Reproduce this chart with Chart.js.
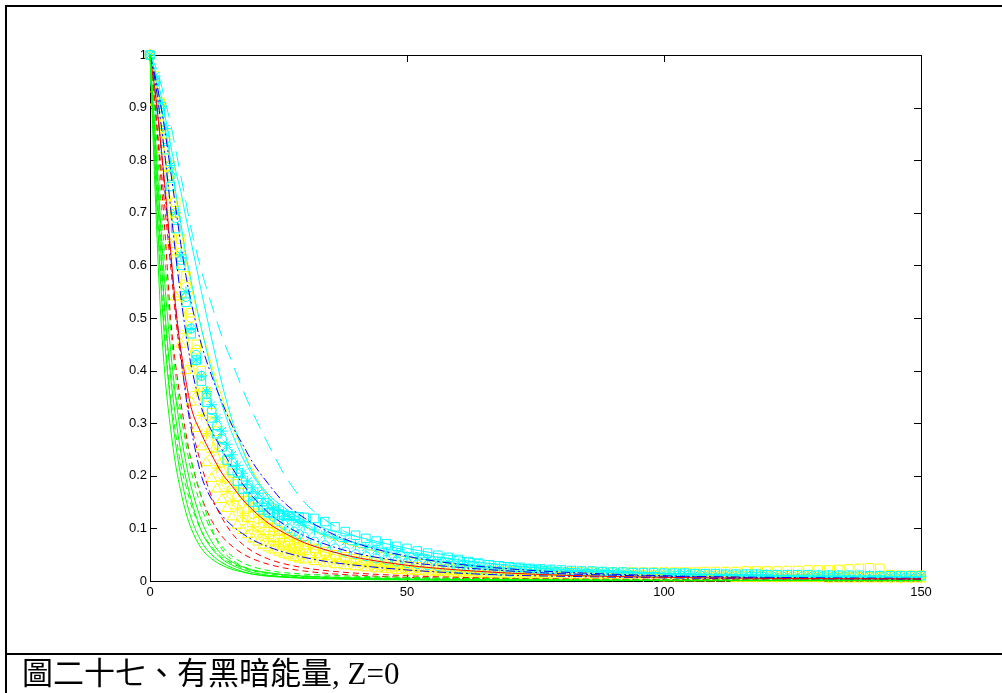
<!DOCTYPE html>
<html>
<head>
<meta charset="utf-8">
<script src="https://cdn.jsdelivr.net/npm/chart.js@4/dist/chart.umd.min.js"></script>
<style>
  html, body { margin:0; padding:0; background:#fff; width:1002px; height:693px; overflow:hidden; }
  #wrap { position:absolute; left:0; top:0; width:1002px; height:693px; }
  .ln { position:absolute; background:#000; }
  #caption { position:absolute; left:22px; top:658px; font-size:31px; line-height:32px; color:#000;
    font-family:"Liberation Serif","Noto Sans CJK TC",serif; white-space:nowrap; }
</style>
</head>
<body>
<div id="wrap"><canvas id="c" width="1002" height="693"></canvas></div>
<div class="ln" style="left:5px;top:5px;width:1000px;height:2px;"></div>
<div class="ln" style="left:5px;top:5px;width:2px;height:690px;"></div>
<div class="ln" style="left:5px;top:653px;width:1000px;height:2px;"></div>
<div id="caption">圖二十七、有黑暗能量, Z=0</div>
<script>
// ---- tick labels ----
const xTickValues = [0, 50, 100, 150];
const yTickLabels = ['0','0.1','0.2','0.3','0.4','0.5','0.6','0.7','0.8','0.9','1'];

// ---- x positions for line series ----
const LX = [0,1,2,3,4,5,6,7,8,10,12,14,16,18,20,23,26,30,35,40,50,60,70,80,100,120,150];
// ---- x positions for marker series ----
const MX = [0,1,2,3,4,5,6,7,8,9,10,11,12,13,14,15,16,17,18,19,20,21,22,23,24,25,26,27,28,29,30,
  32,34,36,38,40,42,44,46,48,50,52,54,56,58,60,62,64,66,68,70,
  72,74,76,78,80,82,84,86,88,90,92,94,96,98,100,102,104,106,108,110,
  112,114,116,118,120,122,124,126,128,130,132,134,136,138,140,142,144,146,148,150];

// ---- line series (values on LX) ----
const greenSolidA = [1,0.78,0.58,0.44,0.34,0.26,0.2,0.155,0.12,0.075,0.05,0.035,0.025,0.018,0.013,0.009,0.007,0.005,0.004,0.003,0.002,0.002,0.001,0.001,0.001,0.001,0.001];
const greenSolidB = [1,0.82,0.64,0.5,0.39,0.31,0.245,0.195,0.155,0.095,0.062,0.042,0.03,0.022,0.016,0.011,0.008,0.006,0.005,0.004,0.003,0.002,0.002,0.001,0.001,0.001,0.001];
const greenSolidC = [1,0.85,0.69,0.55,0.44,0.35,0.28,0.225,0.18,0.115,0.075,0.05,0.036,0.027,0.021,0.016,0.012,0.009,0.007,0.006,0.004,0.003,0.002,0.002,0.001,0.001,0.001];
const greenSolidD = [1,0.74,0.52,0.38,0.29,0.22,0.17,0.13,0.1,0.062,0.042,0.03,0.022,0.017,0.013,0.01,0.008,0.006,0.005,0.004,0.003,0.002,0.002,0.001,0.001,0.001,0.001];
const greenDashA = [1,0.84,0.67,0.49,0.4,0.35,0.31,0.27,0.23,0.16,0.1,0.06,0.04,0.028,0.02,0.014,0.01,0.008,0.006,0.005,0.003,0.002,0.002,0.001,0.001,0.001,0.001];
const greenDashB = [1,0.8,0.6,0.45,0.35,0.28,0.22,0.18,0.145,0.095,0.065,0.045,0.033,0.025,0.019,0.015,0.012,0.01,0.008,0.007,0.005,0.004,0.003,0.002,0.002,0.001,0.001];
const greenDashC = [1,0.88,0.74,0.6,0.48,0.39,0.32,0.26,0.21,0.14,0.095,0.066,0.047,0.035,0.027,0.02,0.016,0.013,0.011,0.009,0.007,0.005,0.004,0.003,0.002,0.002,0.001];
const redDashA = [1,0.9,0.78,0.65,0.5,0.41,0.34,0.28,0.23,0.16,0.115,0.085,0.066,0.052,0.042,0.032,0.025,0.019,0.014,0.011,0.007,0.005,0.004,0.003,0.002,0.002,0.001];
const redDashB = [1,0.9,0.8,0.7,0.6,0.5,0.42,0.36,0.3,0.22,0.16,0.12,0.09,0.07,0.056,0.042,0.033,0.025,0.019,0.015,0.01,0.007,0.005,0.004,0.003,0.002,0.002];
const redSolid = [1,0.93,0.84,0.74,0.63,0.52,0.44,0.38,0.33,0.28,0.24,0.205,0.18,0.155,0.135,0.11,0.092,0.073,0.057,0.045,0.03,0.021,0.015,0.011,0.007,0.005,0.004];
const blueDashDotA = [1,0.96,0.91,0.85,0.78,0.71,0.64,0.58,0.53,0.45,0.39,0.34,0.295,0.26,0.225,0.185,0.15,0.12,0.092,0.072,0.047,0.032,0.023,0.017,0.01,0.007,0.005];
const blueDashDotB = [1,0.95,0.88,0.8,0.71,0.62,0.54,0.47,0.41,0.33,0.285,0.25,0.215,0.185,0.16,0.13,0.108,0.086,0.067,0.053,0.036,0.026,0.019,0.014,0.009,0.006,0.004];
const blueDashDotC = [1,0.93,0.84,0.73,0.62,0.52,0.43,0.35,0.29,0.2,0.155,0.125,0.105,0.09,0.078,0.065,0.055,0.045,0.036,0.03,0.021,0.015,0.011,0.009,0.006,0.004,0.003];
const cyanSolidA = [1,0.97,0.93,0.88,0.83,0.78,0.74,0.69,0.645,0.55,0.46,0.375,0.305,0.25,0.205,0.165,0.14,0.115,0.097,0.085,0.062,0.046,0.034,0.025,0.015,0.01,0.007];
const cyanSolidB = [1,0.96,0.91,0.86,0.8,0.74,0.68,0.62,0.57,0.48,0.4,0.335,0.28,0.235,0.2,0.16,0.13,0.105,0.085,0.072,0.054,0.04,0.03,0.022,0.014,0.01,0.007];
const cyanLongDash = [1,0.98,0.95,0.91,0.87,0.82,0.77,0.72,0.67,0.59,0.525,0.465,0.415,0.365,0.32,0.26,0.205,0.15,0.11,0.085,0.058,0.04,0.029,0.021,0.013,0.009,0.006];
const yellowSolidA = [1,0.96,0.91,0.85,0.79,0.73,0.67,0.61,0.56,0.48,0.41,0.35,0.295,0.25,0.21,0.16,0.13,0.105,0.082,0.066,0.045,0.032,0.023,0.018,0.012,0.009,0.006];
const yellowSolidB = [1,0.95,0.88,0.8,0.72,0.64,0.56,0.49,0.43,0.34,0.275,0.225,0.185,0.155,0.13,0.105,0.085,0.067,0.052,0.041,0.028,0.02,0.015,0.011,0.007,0.005,0.004];

// ---- marker series (values on MX) ----
const cyanSquares = [1,0.95,0.89,0.82,0.75,0.67,0.6,0.53,0.47,0.42,0.38,0.34,0.31,0.28,0.255,0.23,0.21,0.19,0.175,0.16,0.15,0.14,0.135,0.13,0.128,0.126,0.125,0.124,0.123,0.122,0.121,
  0.119,0.113,0.103,0.094,0.087,0.081,0.076,0.071,0.066,0.062,0.057,0.053,0.049,0.045,0.041,0.037,0.034,0.031,0.029,0.027,
  0.026,0.024,0.023,0.022,0.021,0.02,0.019,0.019,0.018,0.017,0.017,0.016,0.016,0.016,0.015,0.015,0.015,0.014,0.014,0.014,
  0.013,0.013,0.013,0.013,0.012,0.012,0.012,0.012,0.012,0.011,0.011,0.011,0.011,0.011,0.01,0.01,0.01,0.01,0.01,0.01];
const cyanStars = [1,0.96,0.91,0.86,0.79,0.7,0.62,0.55,0.48,0.42,0.39,0.36,0.335,0.31,0.285,0.26,0.24,0.22,0.205,0.19,0.177,0.167,0.157,0.148,0.14,0.135,0.129,0.123,0.117,0.111,0.106,
  0.097,0.089,0.082,0.075,0.069,0.064,0.059,0.055,0.051,0.047,0.044,0.041,0.038,0.036,0.033,0.031,0.029,0.027,0.025,0.024,
  0.023,0.022,0.021,0.02,0.019,0.018,0.018,0.017,0.017,0.016,0.016,0.015,0.015,0.015,0.014,0.014,0.014,0.013,0.013,0.013,
  0.013,0.012,0.012,0.012,0.012,0.011,0.011,0.011,0.011,0.011,0.01,0.01,0.01,0.01,0.01,0.01,0.009,0.009,0.009,0.009];
const cyanCircles = [1,0.95,0.9,0.84,0.77,0.69,0.61,0.54,0.48,0.43,0.39,0.355,0.325,0.295,0.27,0.245,0.225,0.205,0.19,0.175,0.162,0.15,0.14,0.13,0.122,0.114,0.107,0.1,0.094,0.089,0.084,
  0.075,0.068,0.062,0.056,0.051,0.047,0.043,0.04,0.037,0.034,0.032,0.03,0.028,0.026,0.024,0.023,0.021,0.02,0.019,0.018];
const yellowTriangles = [1,0.91,0.82,0.73,0.64,0.54,0.45,0.4,0.34,0.29,0.255,0.225,0.195,0.175,0.155,0.138,0.122,0.106,0.096,0.088,0.08,0.074,0.068,0.063,0.059,0.055,0.051,0.048,0.045,0.042,0.04,
  0.037,0.034,0.031,0.029,0.027,0.025,0.023,0.022,0.02,0.019,0.018,0.017,0.016,0.015,0.014,0.013,0.013,0.012,0.012,0.011,
  0.01,0.01,0.009,0.009,0.009,0.008,0.008,0.008,0.008,0.007,0.007,0.007,0.007,0.007,0.006,0.006,0.006,0.006,0.006,0.006,
  0.006,0.005,0.005,0.005,0.005,0.005,0.005,0.005,0.005,0.005,0.004,0.004,0.004,0.004,0.004,0.004,0.004,0.004,0.004,0.004];
const yellowCircles = [1,0.95,0.9,0.84,0.77,0.7,0.625,0.56,0.5,0.44,0.39,0.35,0.3,0.26,0.225,0.195,0.175,0.16,0.148,0.137,0.127,0.118,0.11,0.102,0.095,0.088,0.082,0.076,0.071,0.066,0.062,
  0.056,0.05,0.046,0.042,0.038,0.035,0.032,0.03,0.028,0.026,0.024,0.023,0.021,0.02,0.019,0.018,0.017,0.016,0.016,0.015,
  0.015,0.015,0.014,0.014,0.014,0.013,0.013,0.013,0.013,0.012,0.012,0.012,0.012,0.012,0.011,0.011,0.011,0.011,0.011,0.011,
  0.011,0.01,0.01,0.01,0.01,0.01,0.01,0.01,0.01,0.009,0.009,0.009,0.009,0.009,0.009,0.009,0.008,0.008,0.008,0.008];
const yellowStars = [1,0.93,0.86,0.78,0.7,0.62,0.54,0.47,0.41,0.36,0.315,0.28,0.245,0.215,0.19,0.17,0.152,0.137,0.124,0.113,0.103,0.095,0.088,0.081,0.075,0.07,0.065,0.061,0.057,0.053,0.05,
  0.045,0.041,0.037,0.034,0.031,0.029,0.027,0.025,0.023,0.021,0.02,0.019,0.018,0.017,0.016,0.015,0.014,0.014,0.013,0.013,
  0.012,0.012,0.012,0.011,0.011,0.011,0.011,0.01,0.01,0.01,0.01,0.01,0.009,0.009,0.009,0.009,0.009,0.009,0.008,0.008,
  0.008,0.008,0.008,0.008,0.008,0.007,0.007,0.007,0.007,0.007,0.007,0.007,0.007,0.006,0.006,0.006,0.006,0.006,0.006,0.006];
const yellowSquares = [1,0.96,0.91,0.85,0.79,0.72,0.65,0.58,0.51,0.45,0.4,0.36,0.32,0.285,0.255,0.228,0.205,0.185,0.168,0.153,0.14,0.129,0.119,0.11,0.102,0.095,0.089,0.083,0.078,0.073,0.069,
  0.062,0.056,0.05,0.046,0.042,0.039,0.036,0.033,0.031,0.029,0.027,0.026,0.024,0.023,0.022,0.021,0.02,0.02,0.019,0.019,
  0.018,0.018,0.018,0.018,0.017,0.017,0.017,0.017,0.017,0.017,0.017,0.017,0.017,0.017,0.017,0.017,0.017,0.017,0.018,0.018,
  0.018,0.018,0.019,0.019,0.019,0.019,0.02,0.02,0.021,0.021,0.021,0.022,0.023,0.024,0.025,0.024,0.012,0.011,0.011,0.011];

const GREEN = '#00ff00', RED = '#ff0000', BLUE = '#0000ff', CYAN = '#00ffff', YELLOW = '#ffff00';
const DASH = [6,4], LONGDASH = [16,9], DASHDOT = [9,3,2,3];

function pts(xs, ys) { return ys.map((v, i) => ({ x: xs[i], y: v })); }
function lineDS(ys, color, dash) {
  return { data: pts(LX, ys), borderColor: color, backgroundColor: color, borderWidth: 1,
    borderDash: dash || [], showLine: true, pointRadius: 0, cubicInterpolationMode: 'monotone', clip: false };
}
function markDS(ys, color, style, r) {
  return { data: pts(MX, ys), borderColor: color, backgroundColor: 'rgba(0,0,0,0)', borderWidth: 1,
    showLine: false, pointStyle: style, pointRadius: r, pointHoverRadius: r, clip: false };
}

const datasets = [
  lineDS(greenSolidA, GREEN), lineDS(greenSolidB, GREEN), lineDS(greenSolidC, GREEN), lineDS(greenSolidD, GREEN),
  lineDS(greenDashA, GREEN, DASH), lineDS(greenDashB, GREEN, DASH), lineDS(greenDashC, GREEN, DASH),
  lineDS(redDashA, RED, DASH), lineDS(redDashB, RED, DASH), lineDS(redSolid, RED),
  lineDS(blueDashDotA, BLUE, DASHDOT), lineDS(blueDashDotB, BLUE, DASHDOT), lineDS(blueDashDotC, BLUE, DASHDOT),
  lineDS(cyanSolidA, CYAN), lineDS(cyanSolidB, CYAN), lineDS(cyanLongDash, CYAN, LONGDASH),
  markDS(cyanSquares, CYAN, 'rect', 6), markDS(cyanStars, CYAN, 'star', 5.5), markDS(cyanCircles, CYAN, 'circle', 4.5),
  lineDS(yellowSolidA, YELLOW), lineDS(yellowSolidB, YELLOW),
  markDS(yellowSquares, YELLOW, 'rect', 6), markDS(yellowStars, YELLOW, 'star', 5.5),
  markDS(yellowCircles, YELLOW, 'circle', 4.5), markDS(yellowTriangles, YELLOW, 'triangle', 6)
];

const frame = {
  id: 'frame',
  beforeDatasetsDraw(chart) {
    const { ctx, chartArea: a, scales } = chart;
    ctx.save();
    ctx.strokeStyle = '#000'; ctx.lineWidth = 1;
    ctx.strokeRect(Math.round(a.left) + 0.5, Math.round(a.top) + 0.5, Math.round(a.right - a.left), Math.round(a.bottom - a.top));
    ctx.beginPath();
    const L = 7;
    scales.y.ticks.forEach(t => {
      const y = Math.round(scales.y.getPixelForValue(t.value)) + 0.5;
      ctx.moveTo(a.left, y); ctx.lineTo(a.left + L, y);
      ctx.moveTo(a.right, y); ctx.lineTo(a.right - L, y);
    });
    scales.x.ticks.forEach(t => {
      const x = Math.round(scales.x.getPixelForValue(t.value)) + 0.5;
      ctx.moveTo(x, a.bottom); ctx.lineTo(x, a.bottom - L);
      ctx.moveTo(x, a.top); ctx.lineTo(x, a.top + L);
    });
    ctx.stroke();
    ctx.restore();
  }
};

new Chart(document.getElementById('c'), {
  type: 'scatter',
  data: { datasets },
  plugins: [frame],
  options: {
    responsive: false, animation: false,
    layout: { padding: { left: 110, top: 55, right: 81, bottom: 92 } },
    plugins: { legend: { display: false }, tooltip: { enabled: false } },
    scales: {
      x: {
        type: 'linear', min: 0, max: 150,
        afterBuildTicks: s => { s.ticks = xTickValues.map(v => ({ value: v })); },
        afterFit: s => { s.height = 20; },
        grid: { display: false, drawTicks: false }, border: { display: false },
        ticks: { color: '#000', padding: 4, maxRotation: 0, font: { family: 'Liberation Sans', size: 13 } }
      },
      y: {
        type: 'linear', min: 0, max: 1,
        afterBuildTicks: s => { s.ticks = yTickLabels.map(l => ({ value: parseFloat(l) })); },
        afterFit: s => { s.width = 40; },
        grid: { display: false, drawTicks: false }, border: { display: false },
        ticks: { color: '#000', padding: 3, font: { family: 'Liberation Sans', size: 13 },
          callback: (v, i) => yTickLabels[i] }
      }
    }
  }
});
</script>
</body>
</html>
